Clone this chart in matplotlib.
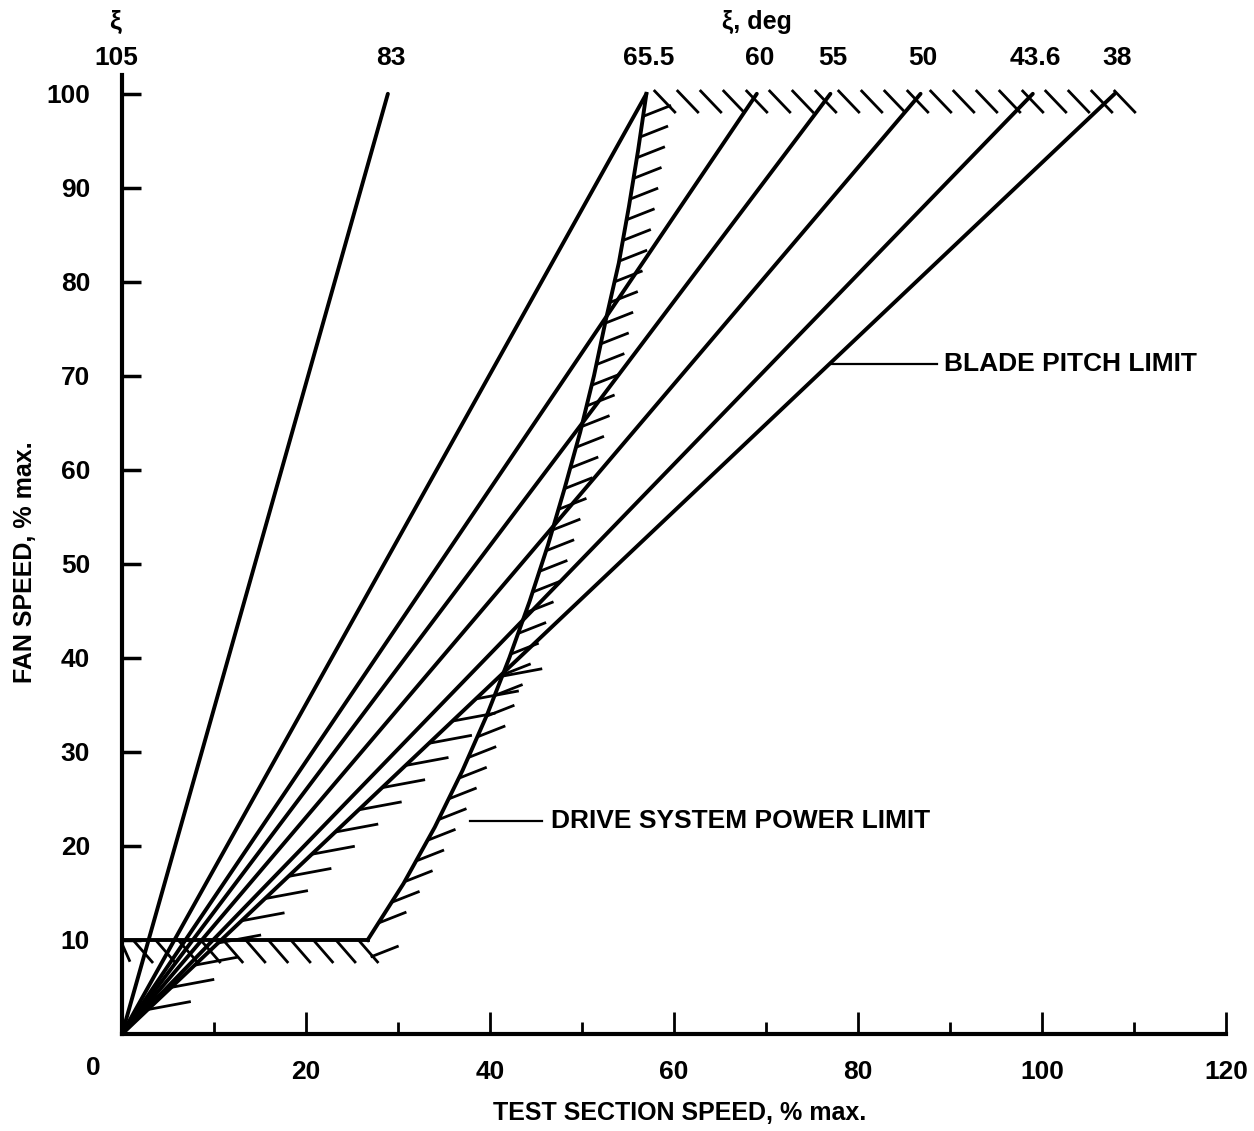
import numpy as np
import matplotlib
matplotlib.use("Agg")
import matplotlib.pyplot as plt
from matplotlib.collections import LineCollection

# ---------------- data ----------------
xi_labels = ['105', '83', '65.5', '60', '55', '50', '43.6', '38']
# test-section speed (% max) at fan speed = 100 % for each blade angle line
xi_end_x = [0.0, 28.9, 57.0, 69.0, 77.0, 86.8, 99.0, 107.9]
fan_top = 100.0

# drive system power limit curve
power_x = [26.7, 30.6, 34.0, 37.0, 39.7, 42.1, 44.3, 46.3, 48.1, 49.8,
           51.3, 52.6, 54.0, 55.1, 56.1, 57.0]
power_y = [10.0, 16.0, 22.0, 28.0, 34.0, 40.0, 46.0, 52.0, 58.0, 64.0,
           70.0, 76.0, 82.0, 88.0, 94.0, 100.0]

min_fan_y = 10.0          # minimum fan speed line
x_ticks = [0, 20, 40, 60, 80, 100, 120]
x_tick_labels = ['', '20', '40', '60', '80', '100', '120']
x_minor = [10, 30, 50, 70, 90, 110]
y_ticks = [10, 20, 30, 40, 50, 60, 70, 80, 90, 100]

# ---------------- style ----------------
FONT = ['Liberation Sans', 'DejaVu Sans']
plt.rcParams['font.family'] = FONT
plt.rcParams['font.weight'] = 'bold'
FS = 19
FSL = 18

fig = plt.figure(figsize=(12.54, 11.31), dpi=100)
W, H = 1254, 1131
ax = fig.add_axes([122 / W, 97 / H, 1104 / W, (1034 - 75) / H])
ax.set_xlim(0, 120)
ax.set_ylim(0, 102)
for s in ['top', 'right']:
    ax.spines[s].set_visible(False)
for s in ['left', 'bottom']:
    ax.spines[s].set_linewidth(3)

ax.set_xticks(x_ticks)
ax.set_xticklabels(x_tick_labels)
ax.set_xticks(x_minor, minor=True)
ax.tick_params(axis='x', which='major', direction='in', length=16, width=2,
               pad=19, labelsize=FS)
ax.tick_params(axis='x', which='minor', direction='in', length=9, width=2)
ax.set_yticks(y_ticks)
ax.tick_params(axis='y', which='major', direction='in', length=14, width=2.5,
               pad=23, labelsize=FS)
for lab in ax.get_xticklabels() + ax.get_yticklabels():
    lab.set_fontweight('bold')

LW = 2.8
HLW = 2.0

# blade angle lines
for xe in xi_end_x[1:]:
    ax.plot([0, xe], [0, fan_top], color='black', lw=LW, solid_capstyle='round')

# power limit curve and minimum fan speed line
ax.plot(power_x, power_y, color='black', lw=LW, solid_joinstyle='round')
ax.plot([0, power_x[0]], [min_fan_y, min_fan_y], color='black', lw=LW)


def px_offset(x, y, dx, dy):
    d = ax.transData.transform((x, y))
    return ax.transData.inverted().transform((d[0] + dx, d[1] + dy))


def add_hatches(points, dx, dy, lw=HLW):
    segs = []
    for (x, y) in points:
        x2, y2 = px_offset(x, y, dx, dy)
        segs.append([(x, y), (x2, y2)])
    ax.add_collection(LineCollection(segs, colors='black', linewidths=lw,
                                     capstyle='butt', clip_on=False))


# hatches along power curve (right side)
hy = np.arange(11.8, 99.5, 2.2)
hx = np.interp(hy, power_y, power_x)
add_hatches(zip(hx, hy), 28, 11)
# corner hatch below start of power curve
add_hatches([px_offset(power_x[0], min_fan_y, 3, -17)], 28, 11)

# hatches along 38 deg line (lower boundary)
x38 = xi_end_x[-1]
ly = np.arange(2.6, 39.0, 2.36)
add_hatches(zip(ly * x38 / fan_top, ly), 43, 8)

# hatches along top (blade pitch / max fan speed)
tx = np.arange(57.8, xi_end_x[-1] + 0.5, 2.5)
add_hatches(zip(tx, np.full_like(tx, 100.4)), 22, -23)

# hatches below minimum fan speed line
bx = np.arange(1.2, power_x[0], 2.45)
add_hatches(zip(bx, np.full_like(bx, min_fan_y)), 20, -23)
add_hatches([(0.0, 9.6)], 8, -18)

# leader lines and annotations
yb = 71.3
ax.plot([x38 * yb / fan_top, 88.6], [yb, yb], color='black', lw=1.6)
ax.text(89.4, yb, 'BLADE PITCH LIMIT', fontsize=FS, fontweight='bold',
        ha='left', va='center')
yd = 22.7
ax.plot([37.8, 45.7], [yd, yd], color='black', lw=1.6)
ax.text(46.6, yd, 'DRIVE SYSTEM POWER LIMIT', fontsize=FS, fontweight='bold',
        ha='left', va='center')

# top labels for blade angles
for lab, xe in zip(xi_labels, xi_end_x):
    off = -0.6 if xe == 0 else 0.3
    ax.text(xe + off, 103.8, lab, fontsize=FS, fontweight='bold',
            ha='center', va='center', clip_on=False)
ax.text(-0.8, 107.6, 'ξ', fontsize=FS, fontweight='bold', ha='center',
        va='center', clip_on=False)
ax.text(69.0, 107.6, 'ξ, deg', fontsize=FSL, fontweight='bold', ha='center',
        va='center', clip_on=False)

# axis labels
fig.text(93 / W, 1 - 1068 / H, '0', fontsize=FS, fontweight='bold',
         ha='center', va='center')
fig.text(680 / W, 1 - 1113 / H, 'TEST SECTION SPEED, % max.', fontsize=FSL,
         fontweight='bold', ha='center', va='center')
fig.text(25 / W, 1 - 562 / H, 'FAN SPEED, % max.', fontsize=FSL,
         fontweight='bold', ha='center', va='center', rotation=90)

fig.savefig('out.png', dpi=100, facecolor='white')
